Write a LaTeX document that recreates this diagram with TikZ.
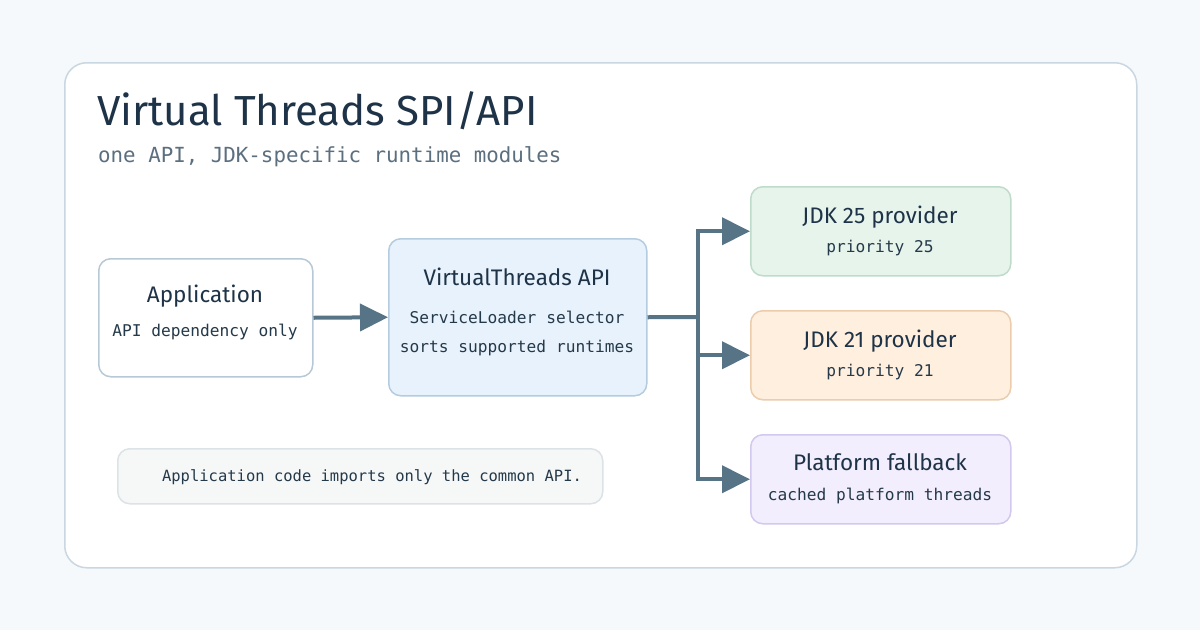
\documentclass[tikz,border=0pt]{standalone}
\usepackage{fontspec}
\setmainfont{Fira Sans}
\setmonofont{DejaVu Sans Mono}
\usetikzlibrary{arrows.meta}
\definecolor{bg}{HTML}{F5F9FC}
\definecolor{panelline}{HTML}{C9D7E3}
\definecolor{ink}{HTML}{1E3347}
\definecolor{monoink}{HTML}{243949}
\definecolor{subink}{HTML}{5B6F7F}
\definecolor{conn}{HTML}{577486}
\definecolor{appline}{HTML}{B7C9D6}
\definecolor{apifill}{HTML}{E8F2FC}
\definecolor{apiline}{HTML}{B5CCE0}
\definecolor{gfill}{HTML}{E7F4EC}
\definecolor{gline}{HTML}{BFDCCB}
\definecolor{ofill}{HTML}{FFEFDF}
\definecolor{oline}{HTML}{EBCDAE}
\definecolor{pfill}{HTML}{F3EEFD}
\definecolor{pline}{HTML}{D3C8EE}
\definecolor{nfill}{HTML}{F6F8F8}
\definecolor{nline}{HTML}{DCE3E6}
\begin{document}
\begin{tikzpicture}[x=1pt,y=-1pt,
  box/.style={draw, rounded corners=12pt, line width=1.5pt, anchor=north west, inner sep=0pt},
  ttl/.style={anchor=base, text=ink, font=\fontsize{22.5}{26}\selectfont},
  mono/.style={anchor=base, text=monoink, font=\ttfamily\fontsize{16.2}{19}\selectfont},
  conline/.style={draw=conn, line width=4pt},
  arr/.style={conline, -{Triangle[length=28pt,width=27pt]}}]
\useasboundingbox (0,0) rectangle (1200,630);
\fill[bg] (0,0) rectangle (1200,630);
\node[box, draw=panelline, fill=white, rounded corners=22pt, minimum width=1072pt, minimum height=505pt] (panel) at (64,62) {};
\node[anchor=base west, text=ink, font=\fontsize{42}{46}\selectfont, inner sep=0pt] (title) at (97,125) {Virtual Threads SPI/API};
\node[anchor=base west, text=subink, font=\ttfamily\fontsize{20.8}{24}\selectfont, inner sep=0pt] (sub) at (98,162) {one API, JDK-specific runtime modules};

\node[box, draw=appline, fill=white, minimum width=214pt, minimum height=118pt] (app) at (98,258) {};
\node[ttl] (appt) at (205,302) {Application};
\node[mono] (apps) at (205,336) {API dependency only};

\node[box, draw=apiline, fill=apifill, minimum width=258pt, minimum height=157pt] (api) at (388,238) {};
\node[ttl] (apit) at (517,285) {VirtualThreads API};
\node[mono] (apis1) at (517,323) {ServiceLoader selector};
\node[mono] (apis2) at (517,352) {sorts supported runtimes};

\node[box, draw=gline, fill=gfill, minimum width=260pt, minimum height=89pt] (j25) at (750,186) {};
\node[ttl] (j25t) at (880,223) {JDK 25 provider};
\node[mono] (j25s) at (880,252) {priority 25};

\node[box, draw=oline, fill=ofill, minimum width=260pt, minimum height=89pt] (j21) at (750,310) {};
\node[ttl] (j21t) at (880,347) {JDK 21 provider};
\node[mono] (j21s) at (880,376) {priority 21};

\node[box, draw=pline, fill=pfill, minimum width=260pt, minimum height=89pt] (pf) at (750,434) {};
\node[ttl] (pft) at (880,470) {Platform fallback};
\node[mono] (pfs) at (880,500) {cached platform threads};

\node[box, draw=nline, fill=nfill, minimum width=485pt, minimum height=55pt] (note) at (117,448) {};
\node[anchor=base, text=monoink, font=\ttfamily\fontsize{15.5}{18}\selectfont] (notet) at (372,481) {Application code imports only the common API.};

\draw[arr] (app.east) -- (api.west);
\coordinate (br) at (698,317);
\draw[conline] (api.east) -- (br);
\draw[arr] (br) |- (j25.west);
\draw[arr] (br) |- (j21.west);
\draw[arr] (br) |- (pf.west);
\end{tikzpicture}
\end{document}
